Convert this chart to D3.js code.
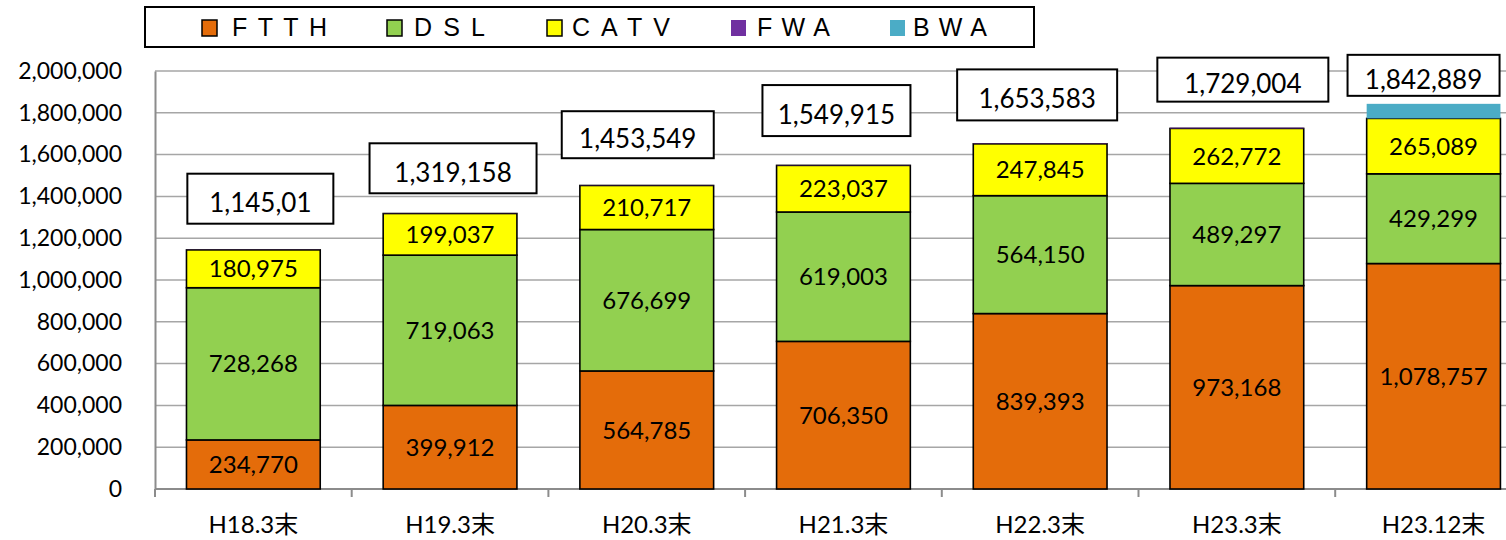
<!DOCTYPE html>
<html>
<head>
<meta charset="utf-8">
<script src="https://cdn.jsdelivr.net/npm/d3@7"></script>
<style>
  html, body { margin: 0; padding: 0; background: #fff; }
  svg { display: block; }
</style>
</head>
<body>
<svg id="chart" width="1506" height="540"></svg>
<script>
// ---- data ----
const categories = ["H18.3末", "H19.3末", "H20.3末", "H21.3末", "H22.3末", "H23.3末", "H23.12末"];
const seriesNames = ["FTTH", "DSL", "CATV", "FWA", "BWA"];
const ftth = [234770, 399912, 564785, 706350, 839393, 973168, 1078757];
const dsl  = [728268, 719063, 676699, 619003, 564150, 489297, 429299];
const catv = [180975, 199037, 210717, 223037, 247845, 262772, 265089];
const fwa  = [1000, 1146, 1348, 1525, 2195, 3767, 0];
const bwa  = [0, 0, 0, 0, 0, 0, 69744];
const totalLabels = ["1,145,01", "1,319,158", "1,453,549", "1,549,915", "1,653,583", "1,729,004", "1,842,889"];
const yTicks = [0, 200000, 400000, 600000, 800000, 1000000, 1200000, 1400000, 1600000, 1800000, 2000000];

// ---- styles / layout ----
const colors = { FTTH: "#E46C0A", DSL: "#92D050", CATV: "#FFFF00", FWA: "#7030A0", BWA: "#4BACC6" };
const bordered = { FTTH: true, DSL: true, CATV: true, FWA: false, BWA: false };
const labelled = { FTTH: true, DSL: true, CATV: true, FWA: false, BWA: false };
// manual placement of total-label boxes (offset from band centre / bar top)
const boxLayout = [
  { dx: 7,   gap: 26, w: 146, h: 50 },
  { dx: 3,   gap: 20, w: 167, h: 50 },
  { dx: -9,  gap: 27, w: 152, h: 47 },
  { dx: -7,  gap: 29, w: 148, h: 51 },
  { dx: -3,  gap: 23, w: 160, h: 51 },
  { dx: 6,   gap: 26, w: 171, h: 44 },
  { dx: -10, gap: 8,  w: 152, h: 41 }
];
const legendLayout = [
  { sx: 202, tx: 232, tl: 95 },
  { sx: 387, tx: 414, tl: 71 },
  { sx: 547, tx: 572, tl: 98 },
  { sx: 731, tx: 757, tl: 73 },
  { sx: 890, tx: 913, tl: 74 }
];

const svg = d3.select("#chart");
const plotLeft = 155, bandStep = 196.7;
const plotRight = plotLeft + bandStep * categories.length;
const plotTop = 71, plotBottom = 489;
const numFont = "Lato, 'Open Sans', sans-serif";

const x = d3.scaleBand().domain(categories).range([plotLeft, plotRight]).paddingInner(0.32).paddingOuter(0.16);
const y = d3.scaleLinear().domain([0, 2000000]).range([plotBottom, plotTop]);

const table = categories.map((c, i) => ({
  cat: c, FTTH: ftth[i], DSL: dsl[i], CATV: catv[i], FWA: fwa[i], BWA: bwa[i]
}));
const stacked = d3.stack().keys(seriesNames)(table);

// gridlines
svg.append("g").selectAll("line").data(yTicks.filter(d => d > 0)).join("line")
  .attr("x1", plotLeft).attr("x2", 1506)
  .attr("y1", d => y(d)).attr("y2", d => y(d))
  .attr("stroke", "#A6A6A6").attr("stroke-width", 1.5);

// y axis
const yAxis = svg.append("g").attr("transform", `translate(${plotLeft},0)`)
  .call(d3.axisLeft(y).tickValues(yTicks).tickSize(0).tickPadding(33).tickFormat(d3.format(",")));
yAxis.select(".domain").attr("stroke", "#8C8C8C").attr("stroke-width", 2);
yAxis.selectAll("text").attr("font-family", numFont).attr("font-size", 23).attr("fill", "#000");

// x axis with ticks at band boundaries
const xg = svg.append("g");
xg.append("line").attr("x1", plotLeft).attr("x2", 1506).attr("y1", plotBottom).attr("y2", plotBottom)
  .attr("stroke", "#8C8C8C").attr("stroke-width", 2);
xg.selectAll("line.tick").data(d3.range(categories.length + 1)).join("line")
  .attr("class", "tick")
  .attr("x1", i => plotLeft + i * x.step()).attr("x2", i => plotLeft + i * x.step())
  .attr("y1", plotBottom).attr("y2", plotBottom + 8)
  .attr("stroke", "#8C8C8C").attr("stroke-width", 2);
xg.selectAll("text").data(categories).join("text")
  .attr("x", d => x(d) + x.bandwidth() / 2).attr("y", 533)
  .attr("text-anchor", "middle")
  .attr("font-family", "Lato, 'Noto Sans CJK JP', sans-serif").attr("font-size", 24)
  .text(d => d);

// bars
const layers = svg.append("g").selectAll("g").data(stacked).join("g")
  .attr("fill", d => colors[d.key]);
layers.selectAll("rect").data(d => d.map(v => ({ key: d.key, v })).filter(o => o.v[1] - o.v[0] > 0)).join("rect")
  .attr("x", o => x(o.v.data.cat))
  .attr("width", x.bandwidth())
  .attr("y", o => y(o.v[1]))
  .attr("height", o => y(o.v[0]) - y(o.v[1]))
  .attr("stroke", o => bordered[o.key] ? "#000" : "none")
  .attr("stroke-width", 1.6);

// segment labels
stacked.filter(s => labelled[s.key]).forEach(s => {
  svg.append("g").selectAll("text").data(s).join("text")
    .attr("x", v => x(v.data.cat) + x.bandwidth() / 2)
    .attr("y", v => (y(v[0]) + y(v[1])) / 2)
    .attr("dy", "0.36em")
    .attr("text-anchor", "middle")
    .attr("font-family", numFont).attr("font-size", 24)
    .text(v => d3.format(",")(v[1] - v[0]));
});

// total boxes
const tops = stacked[stacked.length - 1];
const tb = svg.append("g").selectAll("g").data(categories).join("g");
tb.append("rect")
  .attr("x", (c, i) => x(c) + x.bandwidth() / 2 + boxLayout[i].dx - boxLayout[i].w / 2)
  .attr("y", (c, i) => y(tops[i][1]) - boxLayout[i].gap - boxLayout[i].h)
  .attr("width", (c, i) => boxLayout[i].w)
  .attr("height", (c, i) => boxLayout[i].h)
  .attr("fill", "#fff").attr("stroke", "#000").attr("stroke-width", 2);
tb.append("text")
  .attr("x", (c, i) => x(c) + x.bandwidth() / 2 + boxLayout[i].dx)
  .attr("y", (c, i) => y(tops[i][1]) - boxLayout[i].gap - boxLayout[i].h / 2 + 4)
  .attr("dy", "0.36em")
  .attr("text-anchor", "middle")
  .attr("font-family", numFont).attr("font-size", 26)
  .text((c, i) => totalLabels[i]);

// legend
const lg = svg.append("g");
lg.append("rect").attr("x", 145).attr("y", 7).attr("width", 889).attr("height", 40)
  .attr("fill", "#fff").attr("stroke", "#000").attr("stroke-width", 2);
seriesNames.forEach((k, i) => {
  const L = legendLayout[i];
  lg.append("rect").attr("x", L.sx).attr("y", 20).attr("width", 15).attr("height", 16)
    .attr("fill", colors[k])
    .attr("stroke", bordered[k] ? "#000" : "none").attr("stroke-width", 1.5);
  lg.append("text").attr("x", L.tx).attr("y", 36)
    .attr("font-family", "'Liberation Sans Narrow', 'Liberation Sans', Arial, sans-serif").attr("font-size", 25)
    .attr("textLength", L.tl).attr("lengthAdjust", "spacing")
    .text(k);
});
</script>
</body>
</html>
